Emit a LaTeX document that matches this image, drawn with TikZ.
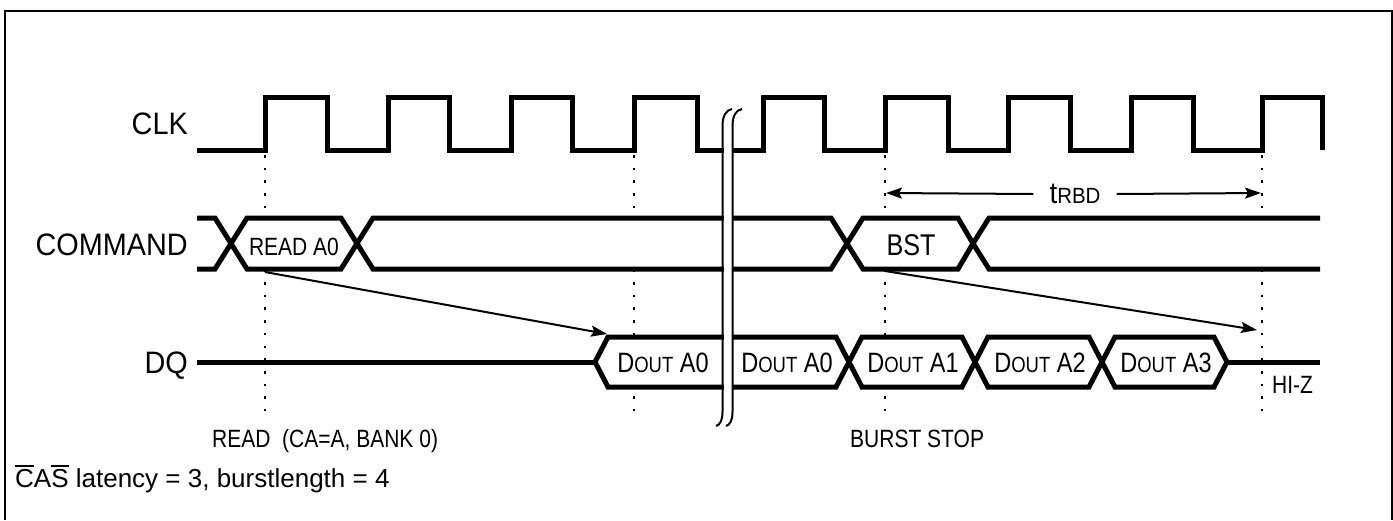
\documentclass[tikz,border=0pt]{standalone}
\usepackage{fontspec}
\setmainfont{Liberation Sans}
\newfontfamily\sigfont[FakeStretch=0.93]{Liberation Sans}
\newfontfamily\cellfont[FakeStretch=0.84]{Liberation Sans}
\usetikzlibrary{arrows.meta}
\newcommand{\smc}[1]{{\fontsize{22}{24}\selectfont #1}}
\newcommand{\ovl}[1]{\vbox{\hrule height 1.6pt\kern 1.8pt\hbox{#1}}}

\begin{document}
\begin{tikzpicture}[x=1pt,y=-1pt,>={Stealth[length=16pt,width=11pt,inset=3pt]},
  wave/.style={line width=5pt,line join=miter},
  bus/.style={draw,fill=white,line width=5pt,line join=miter},
  guide/.style={line width=2.6pt,dash pattern=on 2.6pt off 10.1pt},
  ptr/.style={->,line width=2pt},
  sname/.style={font=\sigfont\fontsize{31}{31}\selectfont,anchor=base east,inner sep=0pt},
  cell/.style={font=\cellfont\fontsize{28}{28}\selectfont,anchor=base,inner sep=0pt},
  note/.style={font=\cellfont\fontsize{25}{25}\selectfont,anchor=base west,inner sep=0pt}]
\useasboundingbox (0,0) rectangle (1393,520);
\draw[line width=2pt] (5,520) -- (5,11) -- (1392,11) -- (1392,520);

% ---------------- signal names
\node[sname] (clk) at (188,134) {CLK};
\node[sname] (cmd) at (188,255) {COMMAND};
\node[sname] (dq)  at (188,373) {DQ};

% ---------------- reference edges
\foreach \x in {265,634,885,1262}
  \draw[guide] (\x,155) -- (\x,411);

% ---------------- clock
\draw[wave] (197,150) -| (265,97) -| (327,150) -| (388,97) -| (449,150)
  -| (511,97) -| (572,150) -| (634,97) -| (697,150) -| (763,97) -| (824,150)
  -| (885,97) -| (948,150) -| (1008,97) -| (1070,150) -| (1131,97)
  -| (1193,150) -| (1262,97) -| (1322,150);

% ---------------- command bus
\draw[wave] (197,218) -- (215,218) -- (231,243.5) -- (215,269) -- (197,269);
\draw[bus] (231,243.5) -- (247,218) -- (341,218) -- (357,243.5) -- (341,269) -- (247,269) -- cycle;
\draw[bus] (357,243.5) -- (373,218) -- (831,218) -- (847,243.5) -- (831,269) -- (373,269) -- cycle;
\draw[bus] (847,243.5) -- (863,218) -- (958,218) -- (973,243.5) -- (958,269) -- (863,269) -- cycle;
\draw[bus] (1320,218) -- (989,218) -- (973,243.5) -- (989,269) -- (1320,269);
\node[cell,font=\cellfont\fontsize{25}{25}\selectfont] (rda0) at (294,255) {READ A0};
\node[cell,font=\cellfont\fontsize{30}{30}\selectfont] (bst) at (911,255) {BST};

% ---------------- data bus
\draw[wave] (197,362) -- (595,362);
\draw[bus] (595,362) -- (608,337) -- (836,337) -- (849,362) -- (836,387) -- (608,387) -- cycle;
\draw[bus] (849,362) -- (862,337) -- (962,337) -- (975,362) -- (962,387) -- (862,387) -- cycle;
\draw[bus] (975,362) -- (988,337) -- (1089,337) -- (1102,362) -- (1089,387) -- (988,387) -- cycle;
\draw[bus] (1102,362) -- (1115,337) -- (1214,337) -- (1227,362) -- (1214,387) -- (1115,387) -- cycle;
\draw[wave] (1227,362) -- (1320,362);
\node[cell] (d0a) at (663,372) {D\smc{OUT} A0};
\node[cell] (d0b) at (787,372) {D\smc{OUT} A0};
\node[cell] (d1)  at (913,372) {D\smc{OUT} A1};
\node[cell] (d2)  at (1040,372) {D\smc{OUT} A2};
\node[cell] (d3)  at (1166,372) {D\smc{OUT} A3};

% ---------------- latency arrows
\coordinate (rdfrom) at (265,272);
\coordinate (d0top)  at (607,334);
\coordinate (bstfrom) at (885,271);
\coordinate (hizto)  at (1257,330);
\draw[ptr] (rdfrom) -- (d0top);
\draw[ptr] (bstfrom) -- (hizto);

\node[font=\sigfont\fontsize{30}{30}\selectfont,inner xsep=16pt,inner ysep=0pt] (trbd) at (1075,194) {t\smc{RBD}};
\coordinate (rbdl) at (886,193);
\coordinate (rbdr) at (1261,193);
\draw[ptr] (trbd.west) -- (rbdl);
\draw[ptr] (trbd.east) -- (rbdr);

% ---------------- time break
\fill[white] (723.5,116) rectangle (731.5,418);
\draw[line width=2pt] (732,109) .. controls (726,110) and (722.5,116) .. (722.5,126)
  -- (722.5,412) .. controls (722.5,420) and (720,425) .. (716,426);
\draw[line width=2pt] (742,109) .. controls (736,110) and (732.5,116) .. (732.5,126)
  -- (732.5,412) .. controls (732.5,420) and (730,425) .. (726,426);

% ---------------- notes
\node[note] (hiz)  at (1272,393) {HI-Z};
\node[note] (rdnote) at (212,447) {READ\ \ (CA=A, BANK 0)};
\node[note] (bsnote) at (850,447) {BURST STOP};
\node[anchor=base west,inner sep=0pt,font=\fontsize{26}{26}\selectfont] (cas) at (15,487)
  {\ovl{C}A\ovl{S} latency = 3, burstlength = 4};
\end{tikzpicture}
\end{document}
